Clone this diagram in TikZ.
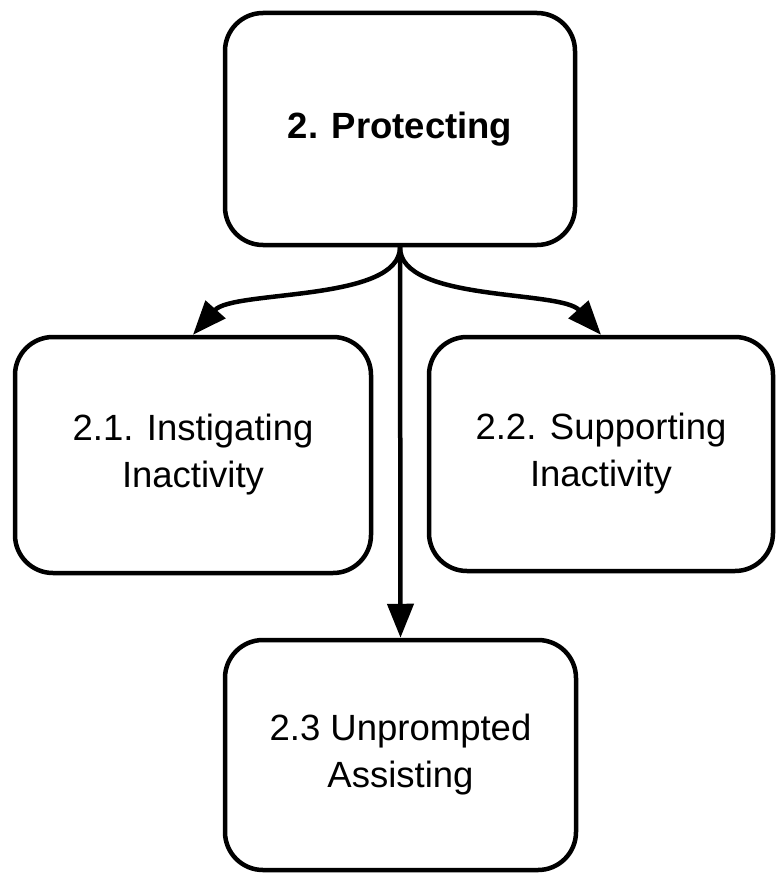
\documentclass[tikz,border=0pt]{standalone}
\usepackage{fontspec}
\setmainfont{Liberation Sans}
\usepackage{tikz}
\usetikzlibrary{arrows.meta}

\begin{document}
\begin{tikzpicture}[x=1pt, y=-1pt, line width=4.5pt, -{Triangle[length=34pt, width=26pt]},
      every node/.append style={draw, rounded corners=38pt, align=center,
        font=\fontsize{36.5}{47}\selectfont}]
    \useasboundingbox (0,0) rectangle (778,875);
    \node (PROT) at (400,129) [minimum width=350pt, minimum height=232pt,
      font=\fontsize{36.5}{47}\selectfont\bfseries] {2. Protecting};
    \node (INST) at (193,455) [minimum width=356pt, minimum height=236pt] {2.1. Instigating\\Inactivity};
    \node (SUPP) at (601,454) [minimum width=344pt, minimum height=234pt] {2.2. Supporting\\Inactivity};
    \node (UNPR) at (400.5,755) [minimum width=351pt, minimum height=230pt] {2.3 Unprompted\\Assisting};
    \draw (PROT.south) .. controls +(0,55) and +(40,-45) .. (INST.north);
    \draw (PROT.south) .. controls +(0,55) and +(-40,-45) .. (SUPP.north);
    \draw (PROT.south) -- (UNPR.north);
  \end{tikzpicture}
\end{document}
